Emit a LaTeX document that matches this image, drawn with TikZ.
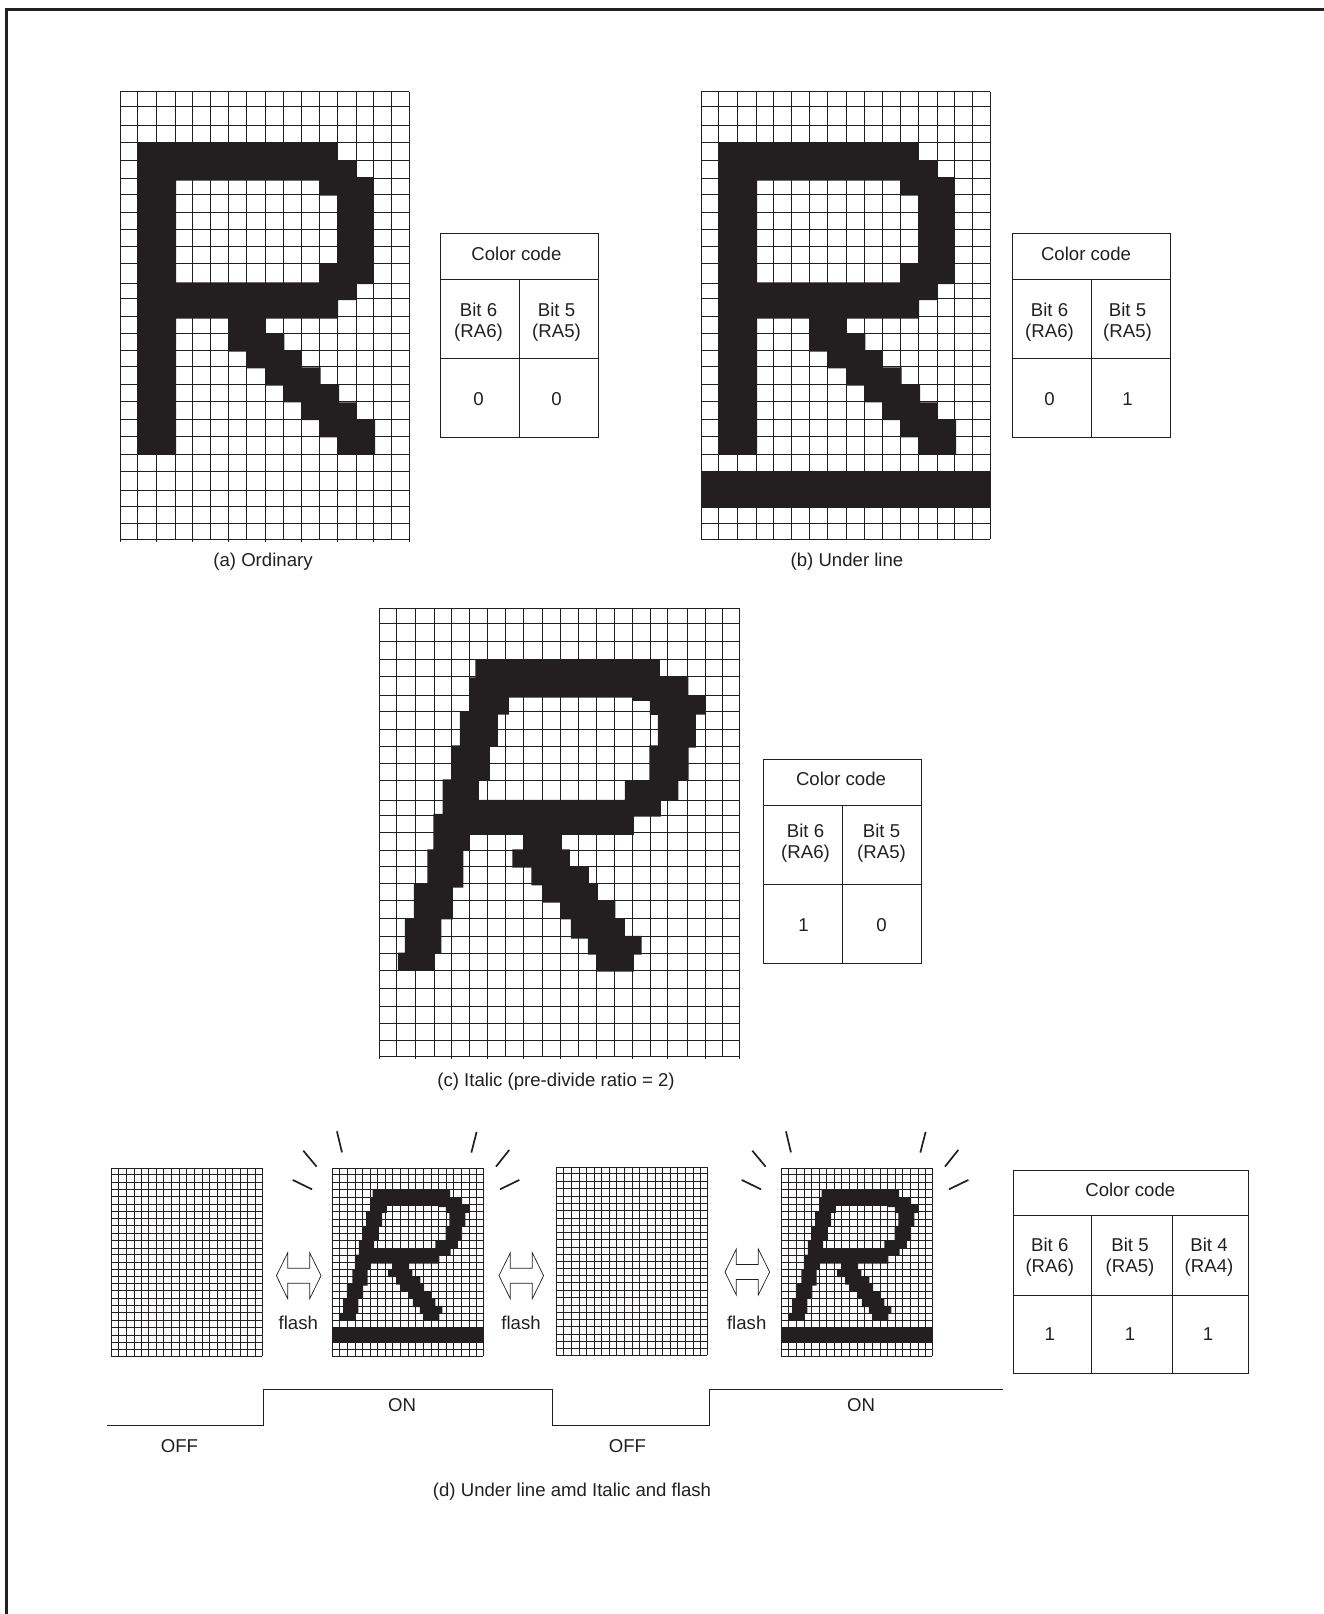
\documentclass[tikz,border=0pt]{standalone}
\usepackage{fontspec}
\setmainfont{Liberation Sans}

% measured grid lines of the character raster
\newcommand{\rowlist}{0,45,100,153,205,260,308,362,413,465,515,575,620,673,725,775,825,877,930,983,1035,1087,1140,1195,1245,1295,1343}
\newcommand{\colsnarrow}{0,53,109,165,218,270,325,380,435,490,543,598,652,708,760,813,867}
\newcommand{\colswide}{0,52,108,164,216,270,324,378,432,489,542,597,652,705,759,814,865,923,977,1030,1079}

\newcommand{\drawgrid}[2]{%
    \foreach \cc in #1 {\draw[gridline] (\cc,0) -- (\cc,1343);}
    \foreach \rr in \rowlist {\draw[gridline] (0,\rr) -- (#2,\rr);}
}
\newcommand{\uprightR}{%
    \fill[myink, even odd rule]
        (53,153) -| (652,205) -| (710,256) -| (760,577) -| (710,625) -| (654,681) -| (437,725)
        -| (493,775) -| (545,827) -| (602,880) -| (657,932) -| (710,983) -| (765,1089) -| (652,1037)
        -| (598,985) -| (543,932) -| (490,882) -| (435,830) -| (380,780) -| (325,681) -| (168,1089)
        -| (53,153) -- cycle
        (168,267) -| (597,312) -| (652,515) -| (597,572) -| (168,267) -- cycle;
}
\newcommand{\slantedR}{%
    \fill[myink, even odd rule]
        (288,155) -- (842,155) |- (927,205) |- (980,261) |- (950,319) |- (928,418) |- (897,516)
        |- (845,576) |- (764,625) |- (548,680) |- (572,723) |- (629,775) |- (656,825) |- (708,878)
        |- (737,930) |- (787,983) |- (764,1039) |- (652,1090) |- (626,1039) |- (575,991) |- (544,933)
        |- (489,883) |- (456,831) |- (399,778) |- (433,723) |- (272,680) |- (252,725) |- (221,838)
        |- (186,933) |- (165,1035) |- (56,1085) |- (77,1033) |- (104,930) |- (144,827) |- (162,723)
        |- (190,617) |- (216,513) |- (242,411) |- (270,310) |- (288,207) -- cycle
        (389,268) -- (759,268) |- (812,278) |- (836,320) |- (810,411) |- (737,516) |- (299,575)
        |- (332,518) |- (356,413) |- (389,319) -- cycle;
}
\newcommand{\flashR}[2]{%
    \begin{scope}[shift={(#1,#2)},scale=0.14]
        \drawgrid{\colswide}{1079}
        \slantedR
        \fill[myink] (-2,1130) rectangle (1079,1243);
        % rays around the lit character
        \foreach \ax/\ay/\bx/\by in {-283/83/-145/150,-207/-126/-112/-12,33/-264/69/-114,
                                     1031/-260/993/-112,1264/-131/1169/-12,1336/83/1198/150}
            \draw[rayline] (\ax,\ay) -- (\bx,\by);
    \end{scope}
}
\newcommand{\twotable}[3]{%
    \node[cellbox, anchor=north west, minimum width=158pt, minimum height=46pt] (#1head) at (#2,#3) {};
    \node[cellbox, anchor=north west, minimum width=79pt, minimum height=79pt] (#1six) at (#1head.south west) {};
    \node[cellbox, anchor=north west, minimum width=79pt, minimum height=79pt] (#1five) at (#1six.north east) {};
    \node[cellbox, anchor=north west, minimum width=79pt, minimum height=79pt] (#1vsix) at (#1six.south west) {};
    \node[cellbox, anchor=north west, minimum width=79pt, minimum height=79pt] (#1vfive) at (#1five.south west) {};
}

\begin{document}
\begin{tikzpicture}[x=1pt, y=-1pt,
    lab/.style={text=myink, font=\fontsize{18.6}{20.8}\selectfont, align=center, inner sep=0pt},
    cellbox/.style={lab, draw=myink, line width=1pt, outer sep=0pt},
    gridline/.style={draw=myink, line width=0.85pt},
    rayline/.style={draw=myink, line width=1.7pt},
    flashline/.style={draw=myink, line width=0.7pt},
    pulseline/.style={draw=myink, line width=0.9pt}]
    \definecolor{myink}{RGB}{35,31,32}
    \useasboundingbox (0,0) rectangle (1324,1614);

    % page frame
    \draw[myink, line width=3pt] (6.5,1614) -- (6.5,9.5) -- (1324,9.5);

    % (a)
    \begin{scope}[shift={(120,91.7)},scale=1/3]
        \drawgrid{\colsnarrow}{867}
        \foreach \cc in {0,109,218,325,435,543,652,760,867} {\draw[gridline] (\cc,1343) -- (\cc,1351);}
        \uprightR
    \end{scope}
    \twotable{a}{440}{233.3}
    \node[lab] (capa) at (263,562) {(a) Ordinary};

    % (b)
    \begin{scope}[shift={(701,91.7)},scale=1/3]
        \drawgrid{\colsnarrow}{867}
        \uprightR
        \fill[myink] (-1,1140) rectangle (870,1248);
    \end{scope}
    \twotable{b}{1012}{233.3}
    \node[lab] (capb) at (847,562) {(b) Under line};

    % (c)
    \begin{scope}[shift={(379.3,608.3)},scale=1/3]
        \drawgrid{\colswide}{1079}
        \foreach \cc in {0,108,216,324,432,542,652,759,865,977,1079} {\draw[gridline] (\cc,1343) -- (\cc,1351);}
        \slantedR
    \end{scope}
    \twotable{c}{763}{759}
    \node[lab] (capc) at (556,1082) {(c) Italic (pre-divide ratio = 2)};

    % (d)
    \begin{scope}[shift={(111,1168)},scale=0.14]
        \drawgrid{\colswide}{1079}
    \end{scope}
    \flashR{332.3}{1168.3}
    \begin{scope}[shift={(556.3,1167.3)},scale=0.14]
        \drawgrid{\colswide}{1079}
    \end{scope}
    \flashR{781.3}{1168.3}

    \foreach \ax/\ay in {298.7/1275.7,521.3/1275.7,747.3/1272} {
        \draw[flashline, shift={(\ax,\ay)}] (-22.3,0) -- (-11,-23) -- (-11,-7.5) -- (11,-7.5)
            -- (11,-23) -- (22.3,0) -- (11,23) -- (11,7.5) -- (-11,7.5) -- (-11,23) -- cycle;
    }
    \node[lab] (flashone) at (298.3,1322.7) {flash};
    \node[lab] (flashtwo) at (521,1322.7) {flash};
    \node[lab] (flashthree) at (746.7,1322.7) {flash};

    \draw[pulseline] (107,1425) -- (263,1425) -- (263,1389) -- (552,1389) -- (552,1425)
        -- (709,1425) -- (709,1389) -- (1003,1389);
    \node[lab] (onone) at (402,1405) {ON};
    \node[lab] (ontwo) at (861,1405) {ON};
    \node[lab] (offone) at (179.5,1445.6) {OFF};
    \node[lab] (offtwo) at (627.5,1445.6) {OFF};
    \node[lab] (capd) at (572,1492) {(d) Under line amd Italic and flash};

    \node[cellbox, anchor=north west, minimum width=235pt, minimum height=45.7pt] (dhead) at (1013.3,1170) {};
    \node[cellbox, anchor=north west, minimum width=78pt, minimum height=79.3pt] (dsix) at (dhead.south west) {};
    \node[cellbox, anchor=north west, minimum width=81.4pt, minimum height=79.3pt] (dfive) at (dsix.north east) {};
    \node[cellbox, anchor=north west, minimum width=75.6pt, minimum height=79.3pt] (dfour) at (dfive.north east) {};
    \node[cellbox, anchor=north west, minimum width=78pt, minimum height=78.3pt] (dvsix) at (dsix.south west) {};
    \node[cellbox, anchor=north west, minimum width=81.4pt, minimum height=78.3pt] (dvfive) at (dfive.south west) {};
    \node[cellbox, anchor=north west, minimum width=75.6pt, minimum height=78.3pt] (dvfour) at (dfour.south west) {};

    % cell texts, each nudged from the centre of its cell
    \foreach \cl/\dx/\dy/\tx in {
        ahead/-2.6/-2/{Color code}, asix/-1/3/{Bit 6\\(RA6)}, afive/-2/3/{Bit 5\\(RA5)}, avsix/-1/1/0, avfive/-2/1/0,
        bhead/-5/-2/{Color code}, bsix/-2/3/{Bit 6\\(RA6)}, bfive/-3/3/{Bit 5\\(RA5)}, bvsix/-2/1/0, bvfive/-3/1/1,
        chead/-1/-3/{Color code}, csix/3/-1/{Bit 6\\(RA6)}, cfive/0/-1/{Bit 5\\(RA5)}, cvsix/1/2/1, cvfive/0/2/0,
        dhead/-0.5/-3/{Color code}, dsix/-2.5/2/{Bit 6\\(RA6)}, dfive/-2/2/{Bit 5\\(RA5)}, dfour/-1.5/2/{Bit 4\\(RA4)},
        dvsix/-2.5/0/1, dvfive/-2/0/1, dvfour/-2.5/0/1} {
        \node[lab] (\cl text) at ([shift={(\dx,\dy)}]\cl.center) {\tx};
    }
\end{tikzpicture}
\end{document}
